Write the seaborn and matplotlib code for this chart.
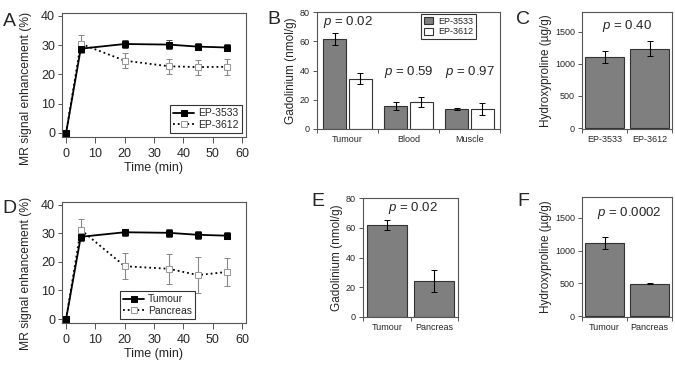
import numpy as np
import pandas as pd
import matplotlib
matplotlib.use("Agg")
import matplotlib.pyplot as plt
import seaborn as sns

# MR time courses
time_min = [0, 5, 20, 35, 45, 55]
ep3533_mr = [0, 28.8, 30.4, 30.2, 29.5, 29.2]
ep3533_mr_err = [0.6, 1.6, 1.2, 1.5, 1.3, 1.3]
ep3612_mr = [0, 30.5, 24.7, 22.8, 22.5, 22.6]
ep3612_mr_err = [0, 3.1, 2.5, 2.5, 2.6, 2.8]
tumour_mr = [0, 28.8, 30.4, 30.2, 29.5, 29.2]
tumour_mr_err = [0.6, 1.6, 1.2, 1.5, 1.3, 1.3]
pancreas_mr = [0, 31.3, 18.5, 17.6, 15.4, 16.5]
pancreas_mr_err = [0, 3.7, 4.6, 5.3, 6.2, 5.0]

# gadolinium per tissue
tissues = ['Tumour', 'Blood', 'Muscle']
models = ['EP-3533', 'EP-3612']
gd_ep3533 = [61.5, 15.7, 13.6]
gd_ep3533_err = [3.8, 3.0, 0.8]
gd_ep3612 = [34.3, 18.6, 13.8]
gd_ep3612_err = [3.8, 3.6, 4.2]
p_gd = ['0.02', '0.59', '0.97']

# hydroxyproline per model
hyp = [1110, 1235]
hyp_err = [95, 115]
p_hyp = '0.40'

# tumour vs pancreas
organs = ['Tumour', 'Pancreas']
gd_organ = [62, 24]
gd_organ_err = [3.5, 7.5]
p_gd_organ = '0.02'
hyp_organ = [1115, 495]
hyp_organ_err = [90, 10]
p_hyp_organ = '0.0002'

sns.set_style("ticks")
plt.rcParams['font.family'] = ['Liberation Sans', 'DejaVu Sans']
plt.rcParams['mathtext.fontset'] = 'custom'
plt.rcParams['mathtext.rm'] = 'Liberation Sans'
plt.rcParams['mathtext.it'] = 'Liberation Sans:italic'

W, H = 675, 367
fig = plt.figure(figsize=(W / 100, H / 100), dpi=100)

def add_ax(l, r, t, b):
    return fig.add_axes([l / W, 1 - b / H, (r - l) / W, (b - t) / H])

BAR_GREY = '#7f7f7f'
EDGE = '#333333'
FRAME = '#555555'

def style_frame(ax, tick_size):
    for s in ax.spines.values():
        s.set_color(FRAME)
        s.set_linewidth(0.8)
    ax.tick_params(axis='both', labelsize=tick_size, length=3, width=0.7,
                   color=FRAME, pad=2)

def mr_panel(ax, s1, e1, s2, e2, names, legend_loc, label_y):
    ax.errorbar(time_min, s1, yerr=e1, fmt='none', ecolor='#444444',
                elinewidth=0.8, capsize=2, capthick=0.7, zorder=2)
    ax.errorbar(time_min, s2, yerr=e2, fmt='none', ecolor='#888888',
                elinewidth=0.8, capsize=2, capthick=0.7, zorder=2)
    sns.lineplot(x=time_min, y=s1, ax=ax, color='black', marker='s',
                 markersize=5, markeredgecolor='black', linewidth=1.3,
                 label=names[0], zorder=4)
    sns.lineplot(x=time_min, y=s2, ax=ax, color='black', marker='s',
                 markersize=5, markerfacecolor='white', markeredgecolor='#999999',
                 linestyle=':', linewidth=1.3, label=names[1], zorder=3)
    ax.set_xlim(-1.4, 61.4)
    ax.set_ylim(-1.4, 41)
    ax.set_xticks([0, 10, 20, 30, 40, 50, 60])
    ax.set_yticks([0, 10, 20, 30, 40])
    ax.set_xlabel('Time (min)', fontsize=9, labelpad=1)
    ax.set_ylabel('MR signal enhancement (%)', fontsize=8.7, labelpad=2)
    ax.yaxis.set_label_coords(-0.163, label_y)
    style_frame(ax, 9)
    ax.tick_params(axis='x', length=4, pad=4)
    leg = ax.legend(loc=legend_loc, fontsize=7.5, frameon=True, fancybox=False,
                    edgecolor='black', handlelength=2.0, borderpad=0.3,
                    labelspacing=0.15, handletextpad=0.4, borderaxespad=0.4)
    leg.get_frame().set_linewidth(0.8)

def group_ticks(ax, labels, size):
    n = len(labels)
    ax.set_xlim(-0.5, n - 0.5)
    ax.set_xticks(np.arange(n + 1) - 0.5, labels=[''] * (n + 1))
    ax.set_xticks(np.arange(n), labels=labels, minor=True)
    ax.set_xlabel('')

def add_errs(ax, errs):
    for cont, err in zip(ax.containers, errs):
        xs = [p.get_x() + p.get_width() / 2 for p in cont.patches]
        ys = [p.get_height() for p in cont.patches]
        ax.errorbar(xs, ys, yerr=err, fmt='none', ecolor='black',
                    elinewidth=0.8, capsize=2, capthick=0.7, zorder=5)

def p_text(ax, x, y, val, size=9.5):
    ax.text(x, y, r'$\it{p}$ = ' + val, ha='center', va='center', fontsize=size)

def finish_bar_axis(ax, labels, ylabel):
    ax.set_ylabel(ylabel, fontsize=8.5, labelpad=2)
    group_ticks(ax, labels, 6.5)
    style_frame(ax, 6.5)
    ax.tick_params(axis='x', which='minor', length=0, labelsize=6.5, pad=4)

# A
axA = add_ax(62, 246, 13, 137)
mr_panel(axA, ep3533_mr, ep3533_mr_err, ep3612_mr, ep3612_mr_err, models,
         'lower right', 0.39)

# D
axD = add_ax(62, 246, 202, 323)
mr_panel(axD, tumour_mr, tumour_mr_err, pancreas_mr, pancreas_mr_err,
         organs, 'lower center', 0.41)
axD.legend_.set_bbox_to_anchor((0.52, 0.0))

# B
axB = add_ax(317, 500, 12, 129)
df_gd = pd.DataFrame({
    'tissue': tissues * 2,
    'model': [models[0]] * 3 + [models[1]] * 3,
    'value': gd_ep3533 + gd_ep3612,
})
sns.barplot(data=df_gd, x='tissue', y='value', hue='model', ax=axB,
            palette={models[0]: BAR_GREY, models[1]: 'white'},
            edgecolor=EDGE, linewidth=0.8, width=0.84, gap=0.12, errorbar=None)
add_errs(axB, [gd_ep3533_err, gd_ep3612_err])
axB.set_ylim(0, 80)
axB.set_yticks([0, 20, 40, 60, 80])
finish_bar_axis(axB, tissues, 'Gadolinium (nmol/g)')
for i, pv in enumerate(p_gd):
    p_text(axB, i, 73 if i == 0 else 39, pv)
legB = axB.legend(loc='upper right', bbox_to_anchor=(0.88, 1.0), fontsize=6.5,
                  frameon=True, fancybox=False, edgecolor='black',
                  handlelength=1.0, handleheight=0.8, borderpad=0.3,
                  labelspacing=0.15, handletextpad=0.6, borderaxespad=0.25)
legB.get_frame().set_linewidth(0.8)

# C
axC = add_ax(582, 672, 12, 129)
sns.barplot(x=models, y=hyp, ax=axC, color=BAR_GREY, saturation=1,
            edgecolor=EDGE, linewidth=0.8, width=0.88, errorbar=None)
add_errs(axC, [hyp_err])
axC.set_ylim(-15, 1810)
axC.set_yticks([0, 500, 1000, 1500])
finish_bar_axis(axC, models, 'Hydroxyproline (µg/g)')
p_text(axC, 0.5, 1590, p_hyp)

# E
axE = add_ax(363, 458, 198, 317)
sns.barplot(x=organs, y=gd_organ, ax=axE, color=BAR_GREY, saturation=1,
            edgecolor=EDGE, linewidth=0.8, width=0.85, errorbar=None)
add_errs(axE, [gd_organ_err])
axE.set_ylim(0, 80)
axE.set_yticks([0, 20, 40, 60, 80])
finish_bar_axis(axE, organs, 'Gadolinium (nmol/g)')
p_text(axE, 0.55, 73, p_gd_organ)

# F
axF = add_ax(582, 672, 197, 317)
sns.barplot(x=organs, y=hyp_organ, ax=axF, color=BAR_GREY, saturation=1,
            edgecolor=EDGE, linewidth=0.8, width=0.88, errorbar=None)
add_errs(axF, [hyp_organ_err])
axF.set_ylim(-15, 1820)
axF.set_yticks([0, 500, 1000, 1500])
finish_bar_axis(axF, organs, 'Hydroxyproline (µg/g)')
p_text(axF, 0.55, 1580, p_hyp_organ)

# panel letters
for letter, x, y in [('A', 9, 21), ('B', 274, 19), ('C', 523, 19),
                     ('D', 9, 208), ('E', 318, 201), ('F', 523, 201)]:
    fig.text(x / W, 1 - y / H, letter, fontsize=14, ha='center', va='center')

fig.savefig('out.png', dpi=100)
